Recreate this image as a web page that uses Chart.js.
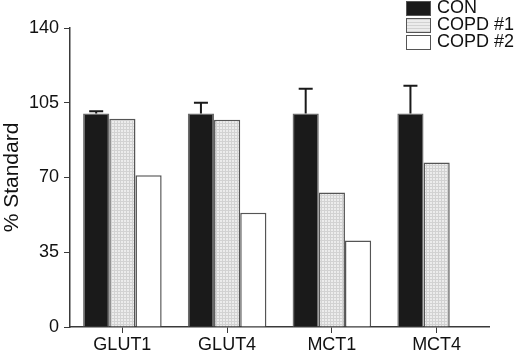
<!DOCTYPE html>
<html><head><meta charset="utf-8">
<script src="https://cdn.jsdelivr.net/npm/chart.js@4/dist/chart.umd.min.js"></script>
<style>
html,body{margin:0;padding:0;background:#fff;}
#wrap{position:relative;width:515px;height:353px;}
#legend{position:absolute;left:406px;top:0;font-family:"Liberation Sans",Arial,sans-serif;font-size:18px;color:#111;}
.row{position:absolute;left:0;height:17px;white-space:nowrap;}
.box{position:absolute;left:0;top:1px;width:23px;height:13px;border:1px solid #555;}
.lbl{position:absolute;left:31px;top:-3px;line-height:20px;}
</style></head><body>
<div id="wrap"><canvas id="c" width="515" height="353"></canvas>
<div id="legend"></div></div>
<script>
const categories = ["GLUT1","GLUT4","MCT1","MCT4"];
const seriesNames = ["CON","COPD #1","COPD #2"];
const conValues = [100, 100, 100, 100];
const conErrors = [1, 5, 11.5, 13];
const copd1Values = [97.5, 97, 63, 77];
const copd2Values = [71, 53.5, 40.5, null];
const yTicks = [0, 35, 70, 105, 140];

function makePattern(){
  const p = document.createElement('canvas'); p.width = 3; p.height = 3;
  const g = p.getContext('2d');
  g.fillStyle = '#ececec'; g.fillRect(0,0,3,3);
  g.fillStyle = '#d2d2d2'; g.fillRect(0,0,1,3); g.fillRect(0,0,3,1);
  return document.getElementById('c').getContext('2d').createPattern(p,'repeat');
}
const pat = makePattern();
const fills = ['#1a1a1a', pat, '#ffffff'];
const borders = ['#6a6a6a', '#555555', '#555555'];

const legend = document.getElementById('legend');
seriesNames.forEach((n,i)=>{
  const r = document.createElement('div'); r.className='row'; r.style.top=(i*17)+'px';
  const b = document.createElement('div'); b.className='box';
  b.style.background = i===0 ? '#1a1a1a' : (i===1 ? 'repeating-linear-gradient(0deg,#d2d2d2 0 1px,#ececec 1px 3px)' : '#fff');
  const t = document.createElement('span'); t.className='lbl'; t.textContent=n;
  r.appendChild(b); r.appendChild(t); legend.appendChild(r);
});

const errorBars = {
  id:'errorBars',
  afterDatasetsDraw(chart){
    const ctx = chart.ctx, ys = chart.scales.y, meta = chart.getDatasetMeta(0);
    ctx.save(); ctx.strokeStyle='#1a1a1a'; ctx.lineWidth=2;
    meta.data.forEach((bar,i)=>{
      const v = conValues[i], e = conErrors[i];
      const y0 = ys.getPixelForValue(v), y1 = ys.getPixelForValue(v+e);
      ctx.beginPath(); ctx.moveTo(bar.x, y0); ctx.lineTo(bar.x, y1);
      ctx.moveTo(bar.x-7, y1); ctx.lineTo(bar.x+7, y1); ctx.stroke();
    });
    ctx.restore();
  }
};

const family = '"Liberation Sans", Arial, sans-serif';
new Chart(document.getElementById('c'), {
  type:'bar',
  data:{labels:categories, datasets:[conValues, copd1Values, copd2Values].map((d,i)=>({
    label:seriesNames[i], data:d, backgroundColor:fills[i], borderColor:borders[i], borderWidth:1.5,
    categoryPercentage:0.75, barPercentage:1
  }))},
  options:{
    responsive:false, animation:false, devicePixelRatio:1,
    layout:{padding:{left:0, top:28, right:26, bottom:0}},
    plugins:{legend:{display:false}, tooltip:{enabled:false}},
    scales:{
      x:{
        grid:{display:true, drawOnChartArea:false, tickLength:6, color:'#3a3a3a', offset:false},
        border:{color:'#3a3a3a', width:1.5},
        ticks:{color:'#111', font:{family:family, size:18}, padding:1},
        afterFit(s){ s.height = 26; }
      },
      y:{
        min:0, max:140,
        afterBuildTicks(s){ s.ticks = yTicks.map(v=>({value:v})); },
        grid:{display:true, drawOnChartArea:false, tickLength:6, color:'#3a3a3a'},
        border:{color:'#3a3a3a', width:1.5},
        ticks:{color:'#111', font:{family:family, size:18}, padding:5},
        title:{display:true, text:'% Standard', color:'#111', font:{family:family, size:21}, padding:{top:0,bottom:0}},
        afterFit(s){ s.width = 70; }
      }
    }
  },
  plugins:[errorBars]
});
</script></body></html>
